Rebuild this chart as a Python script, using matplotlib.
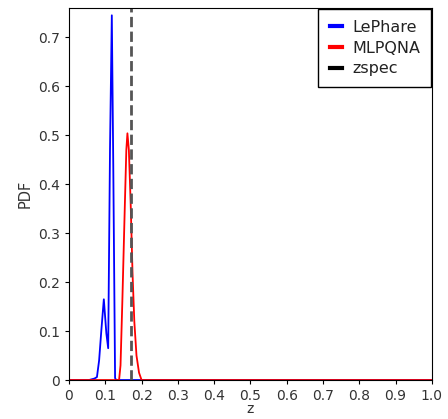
import numpy as np
import matplotlib
matplotlib.use("Agg")
import matplotlib.pyplot as plt

# photometric redshift PDFs
z_lephare = [0.0, 0.055, 0.070, 0.077, 0.083, 0.089, 0.096, 0.103, 0.108,
             0.113, 0.118, 0.122, 0.127, 0.130, 0.140, 1.0]
pdf_lephare = [0.0, 0.0, 0.003, 0.006, 0.04, 0.10, 0.165, 0.095, 0.065,
               0.47, 0.745, 0.44, 0.004, 0.0, 0.0, 0.0]

z_mlpqna = [0.0, 0.138, 0.142, 0.147, 0.154, 0.158, 0.161, 0.165, 0.170,
            0.175, 0.180, 0.186, 0.193, 0.200, 1.0]
pdf_mlpqna = [0.0, 0.0, 0.03, 0.16, 0.36, 0.47, 0.504, 0.47, 0.36,
              0.22, 0.12, 0.05, 0.015, 0.0, 0.0]

zspec = 0.170

xticks = [0, 0.1, 0.2, 0.3, 0.4, 0.5, 0.6, 0.7, 0.8, 0.9, 1.0]
xtick_labels = ["0", "0.1", "0.2", "0.3", "0.4", "0.5", "0.6", "0.7", "0.8", "0.9", "1.0"]
yticks = [0, 0.1, 0.2, 0.3, 0.4, 0.5, 0.6, 0.7]
ytick_labels = ["0", "0.1", "0.2", "0.3", "0.4", "0.5", "0.6", "0.7"]

fig = plt.figure(figsize=(4.48, 4.19), dpi=100)
ax = fig.add_axes([0.154, 0.093, 0.81, 0.888])

ax.plot(z_lephare, pdf_lephare, color='blue', lw=1.3, label='LePhare')
ax.plot(z_mlpqna, pdf_mlpqna, color='red', lw=1.3, label='MLPQNA')
ax.axvline(zspec, color='#555555', ls='--', lw=2, label='zspec')

ax.set_xlim(0, 1.0)
ax.set_ylim(0, 0.76)
ax.set_xticks(xticks)
ax.set_xticklabels(xtick_labels)
ax.set_yticks(yticks)
ax.set_yticklabels(ytick_labels)
ax.tick_params(labelsize=10, labelcolor='#333333', length=3)
ax.set_ylabel('PDF', fontsize=10.5, color='#333333')
ax.set_xlabel('z', fontsize=10, color='#333333', labelpad=-1)

leg = ax.legend(loc='upper right', fontsize=11.5, fancybox=False, framealpha=1,
                edgecolor='black', handlelength=0.8, handletextpad=0.6,
                labelspacing=0.35, borderpad=0.7, borderaxespad=0.05)
for t in leg.get_texts():
    t.set_color('#222222')
for h in leg.get_lines():
    h.set_linestyle('-')
    h.set_linewidth(3)
leg.get_lines()[2].set_color('black')

fig.savefig('out.png', dpi=100)
